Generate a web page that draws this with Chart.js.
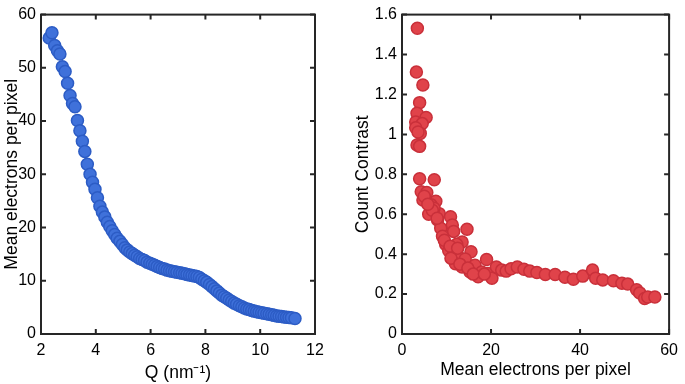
<!DOCTYPE html>
<html>
<head>
<meta charset="utf-8">
<script src="https://cdn.jsdelivr.net/npm/chart.js@4.4.1/dist/chart.umd.min.js"></script>
<style>
  body { margin: 0; background: #fff; }
  #wrap { position: relative; width: 685px; height: 384px; }
  .box { position: absolute; top: 0; height: 384px; }
</style>
</head>
<body>
<div id="wrap">
  <div class="box" style="left:0;width:340px"><canvas id="leftChart"></canvas></div>
  <div class="box" style="left:340px;width:345px"><canvas id="rightChart"></canvas></div>
</div>
<script>
// left panel: mean electrons vs Q
const qValues = [2.30, 2.40, 2.50, 2.60, 2.69, 2.78, 2.88, 2.97, 3.06, 3.15, 3.24, 3.33, 3.42, 3.51, 3.60, 3.69, 3.79, 3.88, 3.97,
  4.06, 4.15, 4.24, 4.33, 4.42, 4.51, 4.60, 4.69, 4.78, 4.88, 4.97, 5.06, 5.15, 5.24, 5.33, 5.42, 5.51, 5.60, 5.69, 5.78, 5.87,
  5.97, 6.06, 6.15, 6.24, 6.33, 6.42, 6.51, 6.60, 6.69, 6.78, 6.87, 6.96, 7.06, 7.15, 7.24, 7.33, 7.42, 7.51, 7.60, 7.69,
  7.78, 7.87, 7.96, 8.05, 8.15, 8.24, 8.33, 8.42, 8.51, 8.60, 8.69, 8.78, 8.87, 8.96, 9.05, 9.14, 9.24, 9.33, 9.42, 9.51,
  9.60, 9.69, 9.78, 9.87, 9.96, 10.05, 10.14, 10.24, 10.33, 10.42, 10.51, 10.60, 10.69, 10.78, 10.87, 10.96, 11.05, 11.14, 11.27];
const meanElectrons = [55.6, 56.6, 54.2, 53.2, 52.6, 50.2, 49.3, 47.1, 44.8, 43.3, 42.7, 40.1, 38.2, 36.2, 34.3, 31.9, 30.0, 28.5, 27.2,
  25.6, 24.0, 22.9, 22.0, 21.0, 20.2, 19.4, 18.7, 18.0, 17.4, 16.8, 16.2, 15.8, 15.4, 15.1, 14.8, 14.5, 14.2, 14.0, 13.8, 13.5,
  13.3, 13.1, 12.9, 12.7, 12.5, 12.3, 12.2, 12.0, 11.9, 11.8, 11.7, 11.6, 11.5, 11.4, 11.3, 11.2, 11.1, 11.0, 10.9, 10.8,
  10.6, 10.3, 10.0, 9.7, 9.3, 8.9, 8.5, 8.1, 7.7, 7.3, 7.0, 6.7, 6.4, 6.1, 5.8, 5.6, 5.3, 5.1, 4.9, 4.7,
  4.6, 4.4, 4.3, 4.2, 4.1, 4.0, 3.9, 3.8, 3.7, 3.6, 3.5, 3.4, 3.35, 3.3, 3.2, 3.15, 3.1, 3.05, 2.9];

// right panel: count contrast vs mean electrons
const electronsPerPixel = [3.45, 3.23, 4.69, 3.96, 3.37, 5.42, 3.08, 4.54, 3.08, 4.1, 3.6, 3.37, 3.96, 3.96, 7.25, 4.32, 5.57, 4.7, 7.6, 6.5,
  6.0, 8.35, 7.2, 10.9, 8.0, 11.3, 14.6, 8.7, 11.6, 9.1, 13.5, 9.8, 12.3, 10.5, 15.5, 11.6, 19.0, 12.6, 14.2, 12.0,
  13.5, 16.4, 15.3, 17.1, 17.9, 19.3, 20.2, 21.2, 22.4, 23.4, 24.5, 25.9, 27.4, 28.7, 30.3, 32.2, 34.4, 36.6, 38.5, 40.6,
  42.8, 43.5, 45.1, 47.5, 49.4, 50.7, 52.7, 53.4, 54.5, 55.2, 56.8,
  5.0, 6.8, 9.5, 10.8, 11.0, 13.0, 14.8, 16.0, 18.5, 12.5, 7.9, 5.8];
const countContrast = [1.532, 1.312, 1.247, 1.159, 1.106, 1.085, 1.062, 1.054, 1.033, 1.005, 1.012, 0.947, 0.94, 0.778, 0.773, 0.713, 0.709, 0.671, 0.665, 0.648,
  0.60, 0.603, 0.63, 0.587, 0.571, 0.546, 0.525, 0.530, 0.514, 0.490, 0.461, 0.449, 0.449, 0.417, 0.412, 0.40, 0.373, 0.39, 0.376, 0.352,
  0.336, 0.344, 0.311, 0.287, 0.311, 0.303, 0.279, 0.336, 0.32, 0.315, 0.327, 0.336, 0.324, 0.315, 0.308, 0.298, 0.298, 0.284, 0.274, 0.29,
  0.32, 0.279, 0.271, 0.267, 0.254, 0.250, 0.222, 0.206, 0.178, 0.185, 0.185,
  0.69, 0.62, 0.47, 0.44, 0.38, 0.35, 0.33, 0.30, 0.30, 0.43, 0.58, 0.65];

const AXIS_COLOR = '#262626';
const FONT_FAMILY = "'Liberation Sans', Arial, sans-serif";
const TICK_FONT = { family: FONT_FAMILY, size: 16 };
const TITLE_FONT = { family: FONT_FAMILY, size: 17.5 };

// matlab style box with inward ticks on all four sides
const boxPlugin = {
  id: 'box',
  afterDatasetsDraw(chart) {
    const { ctx, chartArea: a, scales } = chart;
    ctx.save();
    ctx.strokeStyle = AXIS_COLOR;
    ctx.lineWidth = 2;
    ctx.strokeRect(a.left, a.top, a.right - a.left, a.bottom - a.top);
    const len = 5;
    ctx.beginPath();
    scales.x.ticks.forEach(t => {
      const px = scales.x.getPixelForValue(t.value);
      ctx.moveTo(px, a.bottom); ctx.lineTo(px, a.bottom - len);
      ctx.moveTo(px, a.top); ctx.lineTo(px, a.top + len);
    });
    scales.y.ticks.forEach(t => {
      const py = scales.y.getPixelForValue(t.value);
      ctx.moveTo(a.left, py); ctx.lineTo(a.left + len, py);
      ctx.moveTo(a.right, py); ctx.lineTo(a.right - len, py);
    });
    ctx.stroke();
    ctx.restore();
  }
};

function makeChart(id, xs, ys, opts) {
  const points = xs.map((x, i) => ({ x: x, y: ys[i] }));
  return new Chart(document.getElementById(id), {
    type: 'scatter',
    data: {
      datasets: [{
        data: points,
        backgroundColor: opts.fill,
        borderColor: opts.edge,
        borderWidth: 1.5,
        pointRadius: 6,
        pointHoverRadius: 6
      }]
    },
    options: {
      responsive: true,
      maintainAspectRatio: false,
      animation: false,
      events: [],
      layout: { padding: { top: 5, right: opts.padRight, left: 0, bottom: 0 } },
      plugins: { legend: { display: false }, tooltip: { enabled: false } },
      scales: {
        x: {
          type: 'linear', min: opts.xMin, max: opts.xMax,
          afterFit: s => { s.height = 50; },
          grid: { display: false, drawTicks: false },
          border: { display: false },
          ticks: { stepSize: opts.xStep, color: '#000', font: TICK_FONT, padding: 7, maxRotation: 0 },
          title: { display: true, text: opts.xTitle, color: '#000', font: TITLE_FONT, padding: { top: 0, bottom: opts.xTitlePad } }
        },
        y: {
          type: 'linear', min: opts.yMin, max: opts.yMax,
          afterFit: s => { s.width = opts.yWidth; },
          grid: { display: false, drawTicks: false },
          border: { display: false },
          ticks: {
            stepSize: opts.yStep, color: '#000', font: TICK_FONT, padding: 5,
            callback: v => String(Math.round(v * 10) / 10)
          },
          title: { display: true, text: opts.yTitle, color: '#000', font: TITLE_FONT, padding: { top: opts.yTitlePad, bottom: 0 } }
        }
      }
    },
    plugins: [boxPlugin]
  });
}

makeChart('leftChart', qValues, meanElectrons, {
  fill: '#3f71da', edge: '#2c5cc5',
  xMin: 2, xMax: 12, xStep: 2, yMin: 0, yMax: 60, yStep: 10,
  xTitle: 'Q (nm\u207B\u00B9)', yTitle: 'Mean electrons per pixel',
  yWidth: 41, padRight: 25, xTitlePad: 0.5, yTitlePad: 1.5
});

makeChart('rightChart', electronsPerPixel, countContrast, {
  fill: '#e0434a', edge: '#c9303a',
  xMin: 0, xMax: 60, xStep: 20, yMin: 0, yMax: 1.6, yStep: 0.2,
  xTitle: 'Mean electrons per pixel', yTitle: 'Count Contrast',
  yWidth: 62, padRight: 10, xTitlePad: 3.5, yTitlePad: 12.5
});
</script>
</body>
</html>
